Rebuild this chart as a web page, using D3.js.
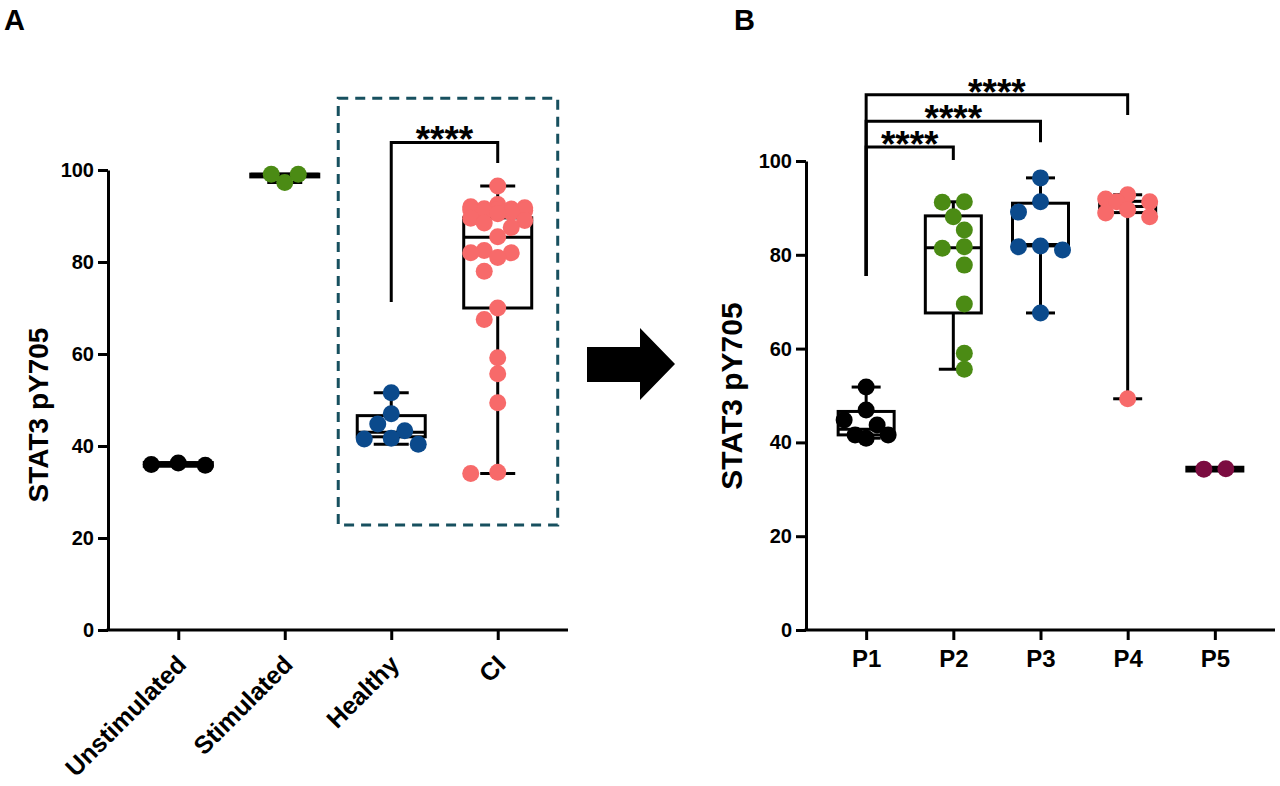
<!DOCTYPE html>
<html>
<head>
<meta charset="utf-8">
<script src="https://cdn.jsdelivr.net/npm/d3@7"></script>
<style>
  body { margin: 0; background: #fff; }
  svg text { font-family: Arial, "Liberation Sans", sans-serif; font-weight: bold; }
</style>
</head>
<body>
<div id="chart"></div>
<script>
// ---- data ----
const yTicks = [0, 20, 40, 60, 80, 100];

// panel A
const catsA = ["Unstimulated", "Stimulated", "Healthy", "CI"];
const colorsA = ["#000000", "#4b8b14", "#0b4a8c", "#f76a6a"];
const unstimulated = [35.8, 36.3, 36.0];
const stimulated = [97.3, 99.1, 99.1];
const healthy = [51.6, 47.0, 44.8, 43.3, 41.7, 41.5, 40.4];
const ci = [96.5, 92.5, 92.0, 91.8, 91.6, 91.5, 91.4, 91.3, 91.2, 91.0, 90.8, 90.5,
            89.5, 89.0, 88.5, 87.5, 85.5, 82.5, 82.0, 82.0, 81.0, 78.0,
            70.0, 67.5, 59.2, 55.7, 49.4, 34.0, 34.3];
const boxMinA = [35.8, 97.3, 40.4, 34.0];
const boxQ1A  = [35.6, 98.5, 42.0, 70.0];
const boxMedA = [36.0, 99.1, 43.0, 85.4];
const boxQ3A  = [36.4, 99.1, 46.6, 89.6];
const boxMaxA = [36.3, 99.1, 51.6, 96.5];

// panel B
const catsB = ["P1", "P2", "P3", "P4", "P5"];
const colorsB = ["#000000", "#4b8b14", "#0b4a8c", "#f76a6a", "#7b0c40"];
const p1 = [51.8, 46.9, 44.8, 43.7, 41.6, 41.6, 40.9];
const p2 = [91.3, 91.2, 88.1, 85.3, 81.7, 81.4, 77.8, 69.5, 59.0, 55.6];
const p3 = [96.4, 91.3, 89.1, 81.9, 81.7, 81.0, 67.6];
const p4 = [92.8, 91.9, 91.3, 91.3, 89.6, 88.9, 88.1, 49.3];
const p5 = [34.3, 34.4];
const boxMinB = [40.9, 55.6, 67.6, 49.3, 34.3];
const boxQ1B  = [41.6, 67.6, 81.9, 89.0, 33.9];
const boxMedB = [42.8, 81.5, 82.2, 90.3, 34.3];
const boxQ3B  = [46.6, 88.3, 91.0, 91.4, 34.7];
const boxMaxB = [51.8, 91.3, 96.4, 92.8, 34.4];

// significance brackets: [from, to, bar level, drop level at "to"]
const compA = [["Healthy", "CI", 106, 101.5]];
const compAleftEnd = 71.3;
const compB = [["P1", "P2", 103.0, 100.2], ["P1", "P3", 108.5, 104.0], ["P1", "P4", 114.1, 109.8]];
const compBleftEnd = 75.5;

const W = 1280, H = 786;
const r = 8.5;

const svg = d3.select("#chart").append("svg")
    .attr("width", W).attr("height", H);

// simple beeswarm: sorted high to low, each point goes to the nearest free slot
function swarmOffsets(vals, y, step, maxHalf) {
    const D = 2 * r * 0.9;
    const idx = d3.range(vals.length).sort((a, b) => vals[b] - vals[a]);
    const out = new Array(vals.length);
    const placed = [];
    const cands = [0];
    for (let k = 1; k * step <= maxHalf + 0.01; k++) cands.push(-k * step, k * step);
    idx.forEach(i => {
        const py = y(vals[i]);
        let pick = null, bestD = -1, fallback = 0;
        for (const dx of cands) {
            let m = Infinity;
            placed.forEach(q => { m = Math.min(m, Math.hypot(q.dx - dx, q.y - py)); });
            if (m >= D) { pick = dx; break; }
            if (m > bestD) { bestD = m; fallback = dx; }
        }
        if (pick === null) pick = fallback;
        placed.push({ dx: pick, y: py });
        out[i] = pick;
    });
    const shift = -(d3.min(out) + d3.max(out)) / 2;
    return out.map(d => d + shift);
}

function styleAxis(g) {
    g.select(".domain").attr("stroke", "#000").attr("stroke-width", 3);
    g.selectAll(".tick line").attr("stroke", "#000").attr("stroke-width", 3);
    g.selectAll(".tick text").attr("fill", "#000");
}

function drawPanel(opt) {
    const g = svg.append("g");
    const x = opt.x, y = opt.y;

    // axes
    const gy = g.append("g")
        .attr("transform", `translate(${x.range()[0]},0)`)
        .call(d3.axisLeft(y).tickValues(yTicks).tickSize(10).tickSizeOuter(0).tickPadding(4));
    styleAxis(gy);
    gy.selectAll(".tick text").style("font-size", opt.yTickFont + "px");

    const gx = g.append("g")
        .attr("transform", `translate(0,${y(0)})`)
        .call(d3.axisBottom(x).tickSize(10).tickSizeOuter(0).tickPadding(opt.xPad));
    styleAxis(gx);
    gx.select(".domain").attr("d", `M${x.range()[0] - 1.5},0H${x.range()[1]}`);
    gx.selectAll(".tick text").style("font-size", opt.xTickFont + "px");
    if (opt.rotate) {
        gx.selectAll(".tick text")
            .attr("x", 0).attr("y", 0).attr("dy", 0)
            .attr("transform", `translate(${opt.rotShift[0]},${opt.rotShift[1]}) rotate(-45)`)
            .style("text-anchor", "end");
    }

    // y title
    g.append("text")
        .attr("transform", `translate(${opt.titleX},${opt.titleY}) rotate(-90)`)
        .attr("text-anchor", "middle")
        .style("font-size", opt.titleFont + "px")
        .text("STAT3 pY705");

    // boxes
    const cats = x.domain();
    cats.forEach((c, i) => {
        const cx = x(c);
        const bw = opt.boxW, cw = opt.capW;
        const s = { fill: "none", stroke: "#000", "stroke-width": 3 };
        const line = (x1, y1, x2, y2) => {
            const l = g.append("line").attr("x1", x1).attr("y1", y1).attr("x2", x2).attr("y2", y2);
            Object.entries(s).forEach(([k, v]) => l.attr(k, v));
        };
        const lo = Math.min(opt.q1[i], opt.q3[i]), hi = Math.max(opt.q1[i], opt.q3[i]);
        line(cx, y(opt.max[i]), cx, y(hi));
        line(cx, y(opt.min[i]), cx, y(lo));
        line(cx - cw / 2, y(opt.max[i]), cx + cw / 2, y(opt.max[i]));
        line(cx - cw / 2, y(opt.min[i]), cx + cw / 2, y(opt.min[i]));
        const rect = g.append("rect")
            .attr("x", cx - bw / 2).attr("y", y(hi))
            .attr("width", bw).attr("height", Math.max(0.5, y(lo) - y(hi)));
        Object.entries(s).forEach(([k, v]) => rect.attr(k, v));
        line(cx - bw / 2, y(opt.med[i]), cx + bw / 2, y(opt.med[i]));
    });

    // points
    cats.forEach((c, i) => {
        const vals = opt.series[i];
        const off = swarmOffsets(vals, y, opt.step, opt.maxHalf);
        g.append("g").selectAll("circle")
            .data(vals)
            .join("circle")
            .attr("cx", (d, j) => x(c) + off[j])
            .attr("cy", d => y(d))
            .attr("r", r)
            .attr("fill", opt.colors[i]);
    });

    // brackets
    opt.comps.forEach(cmp => {
        const xa = x(cmp[0]), xb = x(cmp[1]);
        const yb = y(cmp[2]);
        g.append("path")
            .attr("d", `M${xa},${y(opt.leftEnd)}V${yb}H${xb}V${y(cmp[3])}`)
            .attr("fill", "none").attr("stroke", "#000").attr("stroke-width", 3);
        g.append("text")
            .attr("x", (xa + xb) / 2).attr("y", yb + 10)
            .attr("text-anchor", "middle")
            .style("font-size", "37px")
            .text("****");
    });
    return g;
}

// ---- panel A ----
const yA = d3.scaleLinear().domain([0, 100]).range([630, 170]);
const xA = d3.scalePoint().domain(catsA).range([108, 568]).padding(0.66);

// dashed highlight around Healthy / CI
svg.append("rect")
    .attr("x", xA("Healthy") - 53).attr("y", yA(115.6))
    .attr("width", xA("CI") + 60 - (xA("Healthy") - 53))
    .attr("height", yA(22.8) - yA(115.6))
    .attr("fill", "none").attr("stroke", "#17505f")
    .attr("stroke-width", 3).attr("stroke-dasharray", "10,7");

drawPanel({
    x: xA, y: yA,
    series: [unstimulated, stimulated, healthy, ci],
    colors: colorsA,
    min: boxMinA, q1: boxQ1A, med: boxMedA, q3: boxQ3A, max: boxMaxA,
    boxW: 68, capW: 35, step: 13.5, maxHalf: 28,
    yTickFont: 20, xTickFont: 25, xPad: 10,
    rotate: true, rotShift: [9, 36],
    titleX: 48, titleY: 415, titleFont: 28,
    comps: compA, leftEnd: compAleftEnd
});

// ---- panel B ----
const yB = d3.scaleLinear().domain([0, 100]).range([630, 161]);
const xB = d3.scalePoint().domain(catsB).range([806, 1275]).padding(0.69);

drawPanel({
    x: xB, y: yB,
    series: [p1, p2, p3, p4, p5],
    colors: colorsB,
    min: boxMinB, q1: boxQ1B, med: boxMedB, q3: boxQ3B, max: boxMaxB,
    boxW: 56, capW: 29, step: 11, maxHalf: 23,
    yTickFont: 20, xTickFont: 24, xPad: 10,
    rotate: false,
    titleX: 742, titleY: 396, titleFont: 30,
    comps: compB, leftEnd: compBleftEnd
});

// arrow between panels
svg.append("path")
    .attr("d", "M587,347H640V328L675,364L640,400V382H587Z")
    .attr("fill", "#000");

// panel letters
svg.append("text").attr("x", 4).attr("y", 30).style("font-size", "29px").text("A");
svg.append("text").attr("x", 734).attr("y", 30).style("font-size", "29px").text("B");
</script>
</body>
</html>
